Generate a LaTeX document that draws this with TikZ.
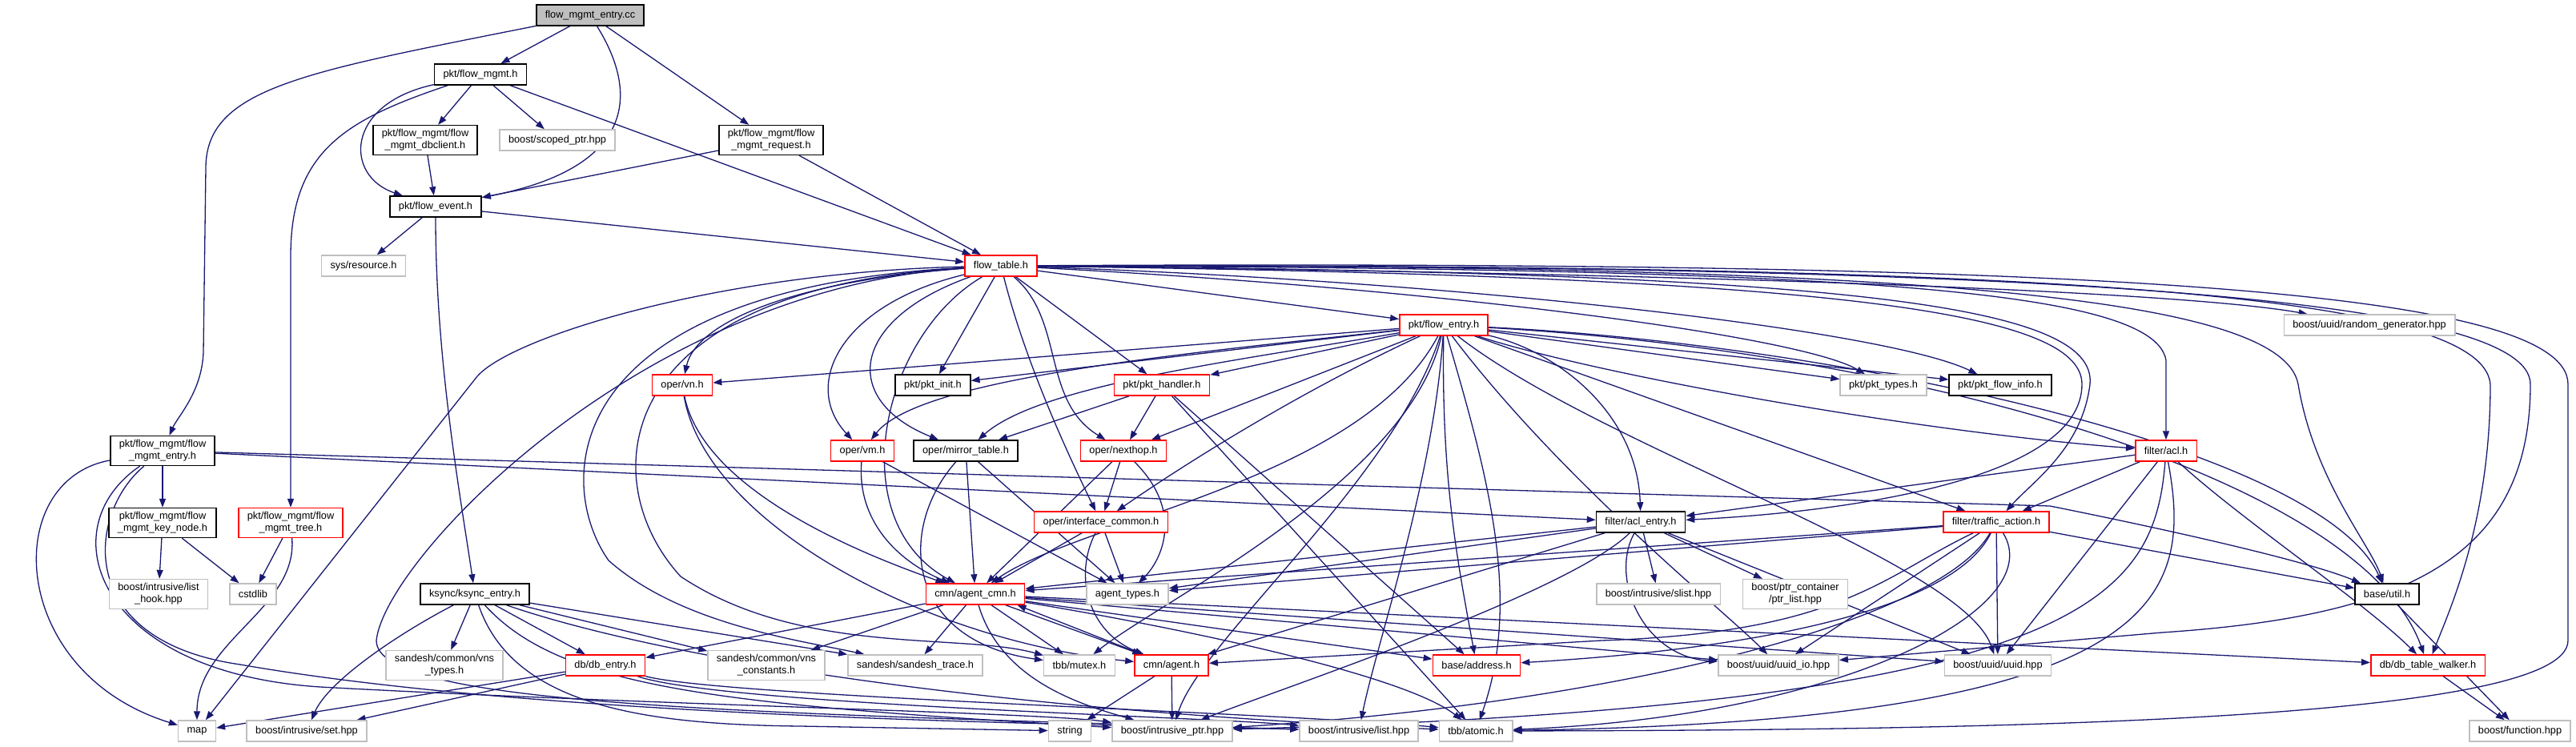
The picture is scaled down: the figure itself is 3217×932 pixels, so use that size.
\documentclass[tikz,border=0pt]{standalone}
\usepackage{fontspec}
\setmainfont{Liberation Sans}
\usetikzlibrary{arrows.meta,backgrounds}
\definecolor{edgeblue}{HTML}{191970}
\definecolor{extgray}{HTML}{BFBFBF}
\begin{document}
\begin{tikzpicture}[
  x=1bp, y=-1bp,
  file/.style={rectangle,draw=black,line width=1.5bp,fill=white,align=center,
               font=\fontsize{12.8}{15}\selectfont,inner xsep=11bp,inner ysep=5bp,
               minimum height=26bp},
  redfile/.style={file,draw=red},
  sysfile/.style={file,draw=extgray},
  rootfile/.style={file,fill=extgray},
  dep/.style={-{Triangle[length=11bp,width=8bp]},line width=1.3bp,edgeblue}
]
  \useasboundingbox (0,0) rectangle (3217,932);

  % rows of headers, top to bottom
  \node[rootfile] (root)   at (737,19)   {flow\_mgmt\_entry.cc};
  \node[file]     (fmgmt)  at (600,93)   {pkt/flow\_mgmt.h};
  \node[file]     (dbcl)   at (531,175)  {pkt/flow\_mgmt/flow\\\_mgmt\_dbclient.h};
  \node[sysfile]  (scop)   at (696,175)  {boost/scoped\_ptr.hpp};
  \node[file]     (req)    at (963,175)  {pkt/flow\_mgmt/flow\\\_mgmt\_request.h};
  \node[file]     (fevt)   at (544,258)  {pkt/flow\_event.h};
  \node[sysfile]  (sysres) at (454,332)  {sys/resource.h};
  \node[redfile]  (ftab)   at (1250,332) {flow\_table.h};
  \node[redfile]  (fent)   at (1803,406) {pkt/flow\_entry.h};
  \node[sysfile]  (rgen)   at (2959,406) {boost/uuid/random\_generator.hpp};
  \node[redfile]  (vn)     at (852,481)  {oper/vn.h};
  \node[file]     (pinit)  at (1165,481) {pkt/pkt\_init.h};
  \node[redfile]  (phand)  at (1451,481) {pkt/pkt\_handler.h};
  \node[sysfile]  (ptypes) at (2352,481) {pkt/pkt\_types.h};
  \node[file]     (pfinfo) at (2498,481) {pkt/pkt\_flow\_info.h};
  \node[file]     (mentry) at (203,563)  {pkt/flow\_mgmt/flow\\\_mgmt\_entry.h};
  \node[redfile]  (vm)     at (1077,563) {oper/vm.h};
  \node[file]     (mirror) at (1206,563) {oper/mirror\_table.h};
  \node[redfile]  (nhop)   at (1403,563) {oper/nexthop.h};
  \node[redfile]  (acl)    at (2705,563) {filter/acl.h};
  \node[file]     (keynode) at (203,653) {pkt/flow\_mgmt/flow\\\_mgmt\_key\_node.h};
  \node[redfile]  (tree)   at (363,653)  {pkt/flow\_mgmt/flow\\\_mgmt\_tree.h};
  \node[redfile]  (intf)   at (1375,652) {oper/interface\_common.h};
  \node[file]     (aclent) at (2049,652) {filter/acl\_entry.h};
  \node[redfile]  (tact)   at (2493,652) {filter/traffic\_action.h};
  \node[sysfile]  (lhook)  at (198,742)  {boost/intrusive/list\\\_hook.hpp};
  \node[sysfile]  (cstd)   at (316,742)  {cstdlib};
  \node[file]     (ksync)  at (593,742)  {ksync/ksync\_entry.h};
  \node[redfile]  (acmn)   at (1218,742) {cmn/agent\_cmn.h};
  \node[sysfile]  (atypes) at (1408,742) {agent\_types.h};
  \node[sysfile]  (slist)  at (2071,742) {boost/intrusive/slist.hpp};
  \node[sysfile]  (ptrl)   at (2242,742) {boost/ptr\_container\\/ptr\_list.hpp};
  \node[file]     (util)   at (2981,742) {base/util.h};
  \node[sysfile]  (vnst)   at (555,831)  {sandesh/common/vns\\\_types.h};
  \node[redfile]  (dbent)  at (756,831)  {db/db\_entry.h};
  \node[sysfile]  (vnsc)   at (957,831)  {sandesh/common/vns\\\_constants.h};
  \node[sysfile]  (strace) at (1143,831) {sandesh/sandesh\_trace.h};
  \node[sysfile]  (mutex)  at (1348,831) {tbb/mutex.h};
  \node[redfile]  (agent)  at (1463,831) {cmn/agent.h};
  \node[redfile]  (addr)   at (1844,831) {base/address.h};
  \node[sysfile]  (uuidio) at (2221,831) {boost/uuid/uuid\_io.hpp};
  \node[sysfile]  (uuid)   at (2495,831) {boost/uuid/uuid.hpp};
  \node[redfile]  (walker) at (3032,831) {db/db\_table\_walker.h};
  \node[sysfile]  (map)    at (246,913)  {map};
  \node[sysfile]  (iset)   at (383,913)  {boost/intrusive/set.hpp};
  \node[sysfile]  (str)    at (1336,913) {string};
  \node[sysfile]  (iptr)   at (1464,913) {boost/intrusive\_ptr.hpp};
  \node[sysfile]  (ilist)  at (1697,913) {boost/intrusive/list.hpp};
  \node[sysfile]  (atomic) at (1843,913) {tbb/atomic.h};
  \node[sysfile]  (func)   at (3147,913) {boost/function.hpp};

  \begin{scope}[on background layer]
  % flow_mgmt_entry.cc
  \draw[dep] (root) .. controls (380,90) and (257,110) .. (257,210) -- (254,440) .. controls (252,490) and (222,520) .. (mentry);
  \draw[dep] (root) -- (fmgmt);
  \draw[dep] (root) .. controls (800,120) and (790,210) .. (fevt);
  \draw[dep] (root) -- (req);
  % pkt/flow_mgmt.h
  \draw[dep] (fmgmt) -- (dbcl);
  \draw[dep] (fmgmt) -- (scop);
  \draw[dep] (fmgmt) .. controls (430,130) and (430,220) .. (fevt);
  \draw[dep] (fmgmt) .. controls (430,150) and (363,190) .. (363,320) -- (tree);
  \draw[dep] (fmgmt) -- (ftab);
  \draw[dep] (dbcl) -- (fevt);
  \draw[dep] (req) -- (fevt);
  \draw[dep] (req) -- (ftab);
  % pkt/flow_event.h
  \draw[dep] (fevt) -- (sysres);
  \draw[dep] (fevt) -- (ftab);
  \draw[dep] (fevt) .. controls (544,450) and (575,620) .. (ksync);
  % flow_mgmt_entry.h and friends
  \draw[dep] (mentry) -- (keynode);
  \draw[dep] (mentry) .. controls (0,600) and (10,840) .. (map);
  \draw[dep] (mentry) -- (aclent);
  \draw[dep] (mentry) -- (2560,632) .. controls (2700,660) and (2880,700) .. (util);
  \draw[dep] (mentry) .. controls (60,660) and (120,840) .. (400,858) .. controls (800,880) and (1300,890) .. (iptr);
  \draw[dep] (mentry) .. controls (110,640) and (90,800) .. (300,830) .. controls (700,900) and (1400,905) .. (ilist);
  \draw[dep] (keynode) -- (lhook);
  \draw[dep] (keynode) -- (cstd);
  \draw[dep] (tree) -- (cstd);
  \draw[dep] (tree) .. controls (372,760) and (246,800) .. (map);
  % ksync/ksync_entry.h
  \draw[dep] (ksync) -- (vnst);
  \draw[dep] (ksync) -- (dbent);
  \draw[dep] (ksync) -- (vnsc);
  \draw[dep] (ksync) -- (strace);
  \draw[dep] (ksync) .. controls (500,790) and (410,850) .. (iset);
  \draw[dep] (ksync) .. controls (640,880) and (800,905) .. (1000,907) -- (str);
  \draw[dep] (ksync) .. controls (700,860) and (900,880) .. (iptr);
  \draw[dep] (ksync) .. controls (760,800) and (1100,880) .. (atomic);
  % db/db_entry.h
  \draw[dep] (dbent) -- (map);
  \draw[dep] (dbent) -- (iset);
  \draw[dep] (dbent) .. controls (900,880) and (1500,895) .. (ilist);
  \draw[dep] (dbent) .. controls (900,870) and (1600,890) .. (atomic);
  % oper headers
  \draw[dep] (vn) .. controls (880,620) and (1100,700) .. (acmn);
  \draw[dep] (vn) .. controls (880,650) and (1150,800) .. (agent);
  \draw[dep] (vm) .. controls (1070,650) and (1120,700) .. (acmn);
  \draw[dep] (vm) -- (atypes);
  \draw[dep] (mirror) -- (acmn);
  \draw[dep] (mirror) -- (atypes);
  \draw[dep] (mirror) .. controls (1120,660) and (1130,800) .. (mutex);
  \draw[dep] (nhop) -- (intf);
  \draw[dep] (nhop) -- (acmn);
  \draw[dep] (nhop) .. controls (1480,640) and (1450,700) .. (atypes);
  \draw[dep] (intf) -- (acmn);
  \draw[dep] (intf) -- (atypes);
  \draw[dep] (intf) .. controls (1340,720) and (1360,790) .. (agent);
  % cmn/agent_cmn.h
  \draw[dep] (acmn) -- (dbent);
  \draw[dep] (acmn) -- (vnsc);
  \draw[dep] (acmn) -- (strace);
  \draw[dep] (acmn) -- (mutex);
  \draw[dep] (acmn) -- (agent);
  \draw[dep] (acmn) -- (addr);
  \draw[dep] (acmn) -- (uuidio);
  \draw[dep] (acmn) -- (uuid);
  \draw[dep] (acmn) -- (walker);
  \draw[dep] (acmn) .. controls (1250,850) and (1350,880) .. (iptr);
  \draw[dep] (acmn) .. controls (1450,780) and (1750,840) .. (atomic);
  \draw[dep] ([xshift=10bp]agent.north west) -- ([xshift=-10bp]acmn.south east);
  \draw[dep] (agent) -- (str);
  \draw[dep] (agent) -- (iptr);
  % pkt/pkt_handler.h
  \draw[dep] (phand) -- (mirror);
  \draw[dep] (phand) -- (nhop);
  \draw[dep] (phand) -- (addr);
  \draw[dep] (phand) -- (atomic);
  % pkt/flow_entry.h
  \draw[dep] (fent) -- (vn);
  \draw[dep] (fent) -- (pinit);
  \draw[dep] (fent) -- (phand);
  \draw[dep] (fent) -- (ptypes);
  \draw[dep] (fent) -- (pfinfo);
  \draw[dep] (fent) .. controls (1500,440) and (1150,470) .. (vm);
  \draw[dep] (fent) .. controls (1550,450) and (1300,480) .. (mirror);
  \draw[dep] (fent) -- (nhop);
  \draw[dep] (fent) .. controls (1600,500) and (1450,600) .. (intf);
  \draw[dep] (fent) .. controls (1950,440) and (2045,520) .. (aclent);
  \draw[dep] (fent) .. controls (2000,470) and (2400,540) .. (acl);
  \draw[dep] (fent) -- (tact);
  \draw[dep] (fent) .. controls (1700,600) and (1350,650) .. (acmn);
  \draw[dep] (fent) .. controls (1760,600) and (1450,750) .. (mutex);
  \draw[dep] (fent) .. controls (1800,600) and (1820,700) .. (addr);
  \draw[dep] (fent) .. controls (1740,600) and (1500,800) .. (iptr);
  \draw[dep] (fent) .. controls (1790,600) and (1720,800) .. (ilist);
  \draw[dep] (fent) .. controls (1860,600) and (1900,750) .. (atomic);
  \draw[dep] (fent) .. controls (1950,600) and (2150,760) .. (uuidio);
  \draw[dep] (fent) .. controls (2000,560) and (2450,700) .. (uuid);
  \draw[dep] (fent) .. controls (2300,430) and (2900,560) .. (util);
  \draw[dep] (fent) .. controls (2400,440) and (2950,600) .. (walker);
  % flow_table.h
  \draw[dep] (ftab) -- (fent);
  \draw[dep] (ftab) .. controls (2000,340) and (2700,360) .. (rgen);
  \draw[dep] (ftab) .. controls (1000,350) and (870,400) .. (vn);
  \draw[dep] (ftab) -- (pinit);
  \draw[dep] (ftab) -- (phand);
  \draw[dep] (ftab) .. controls (1800,360) and (2250,420) .. (ptypes);
  \draw[dep] (ftab) .. controls (1800,350) and (2350,410) .. (pfinfo);
  \draw[dep] (ftab) .. controls (1050,380) and (1000,480) .. (vm);
  \draw[dep] (ftab) .. controls (1060,400) and (1050,500) .. (mirror);
  \draw[dep] (ftab) .. controls (1330,400) and (1300,500) .. (nhop);
  \draw[dep] (ftab) .. controls (1280,450) and (1330,560) .. (intf);
  \draw[dep] (ftab) .. controls (1100,420) and (1050,650) .. (acmn);
  \draw[dep] (ftab) .. controls (900,340) and (640,420) .. (596,470) -- (map);
  \draw[dep] (ftab) .. controls (700,360) and (690,600) .. (760,700) .. controls (850,780) and (1000,800) .. (strace);
  \draw[dep] (ftab) .. controls (760,360) and (740,600) .. (850,720) .. controls (1000,820) and (1200,790) .. (mutex);
  \draw[dep] (ftab) .. controls (800,360) and (480,700) .. (470,800) .. controls (470,880) and (900,890) .. (ilist);
  \draw[dep] (ftab) .. controls (2300,335) and (2690,360) .. (2705,450) -- (acl);
  \draw[dep] (ftab) .. controls (2300,340) and (2620,380) .. (2610,480) .. controls (2600,560) and (2540,600) .. (tact);
  \draw[dep] (ftab) .. controls (2300,345) and (2600,390) .. (2600,480) .. controls (2600,600) and (2300,640) .. (aclent);
  \draw[dep] (ftab) .. controls (2400,330) and (2850,370) .. (2870,480) .. controls (2890,600) and (2960,680) .. (util);
  \draw[dep] (ftab) .. controls (2500,330) and (3100,360) .. (3110,480) .. controls (3110,650) and (3060,760) .. (walker);
  \draw[dep] (ftab) .. controls (2550,330) and (3160,370) .. (3160,480) .. controls (3160,700) and (3000,770) .. (2700,790) -- (uuidio);
  \draw[dep] (ftab) .. controls (2600,325) and (3207,360) .. (3207,480) -- (3207,800) .. controls (3207,900) and (2500,912) .. (atomic);
  % filter headers
  \draw[dep] (acl) -- (aclent);
  \draw[dep] (acl) -- (tact);
  \draw[dep] (acl) -- (uuid);
  \draw[dep] (acl) .. controls (2800,650) and (2950,750) .. (walker);
  \draw[dep] (acl) .. controls (2690,750) and (2600,880) .. (iptr);
  \draw[dep] (acl) .. controls (2740,750) and (2700,900) .. (atomic);
  \draw[dep] (aclent) -- (acmn);
  \draw[dep] (aclent) -- (atypes);
  \draw[dep] (aclent) -- (slist);
  \draw[dep] (aclent) -- (ptrl);
  \draw[dep] (aclent) -- (agent);
  \draw[dep] (aclent) -- (uuid);
  \draw[dep] (aclent) .. controls (2010,720) and (2050,820) .. (uuidio);
  \draw[dep] (aclent) .. controls (1960,740) and (1600,860) .. (iptr);
  \draw[dep] (tact) -- (acmn);
  \draw[dep] (tact) -- (atypes);
  \draw[dep] (tact) -- (util);
  \draw[dep] (tact) -- (uuidio);
  \draw[dep] (tact) -- (uuid);
  \draw[dep] (tact) .. controls (2350,720) and (2300,790) .. (2000,800) -- (agent);
  \draw[dep] (tact) .. controls (2440,760) and (2200,810) .. (addr);
  \draw[dep] (tact) .. controls (2420,780) and (2000,880) .. (iptr);
  \draw[dep] (tact) .. controls (2560,760) and (2300,895) .. (atomic);
  % base and db
  \draw[dep] (util) -- (func);
  \draw[dep] (walker) -- (func);
  \end{scope}
\end{tikzpicture}
\end{document}
